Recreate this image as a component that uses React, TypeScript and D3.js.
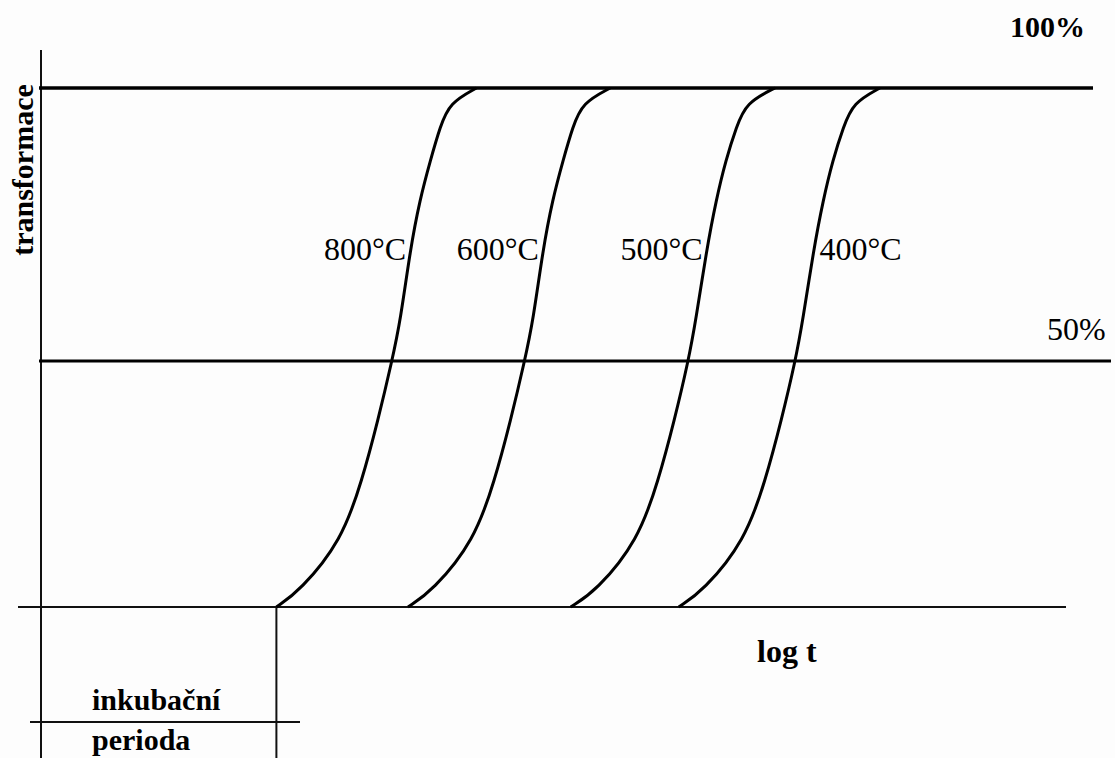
import React, { useEffect, useRef } from 'react';
import * as d3 from 'd3';

// kinetic curves of transformation (isothermal)
const curveLabels = ['800°C', '600°C', '500°C', '400°C'];
const percentLevels = [0, 3.3, 13.5, 25.7, 38, 50, 57.5, 70.3, 79.5, 86.8, 92.9, 97.3, 100];
const logT800 = [2.2, 2.42, 2.81, 3.0, 3.15, 3.28, 3.36, 3.45, 3.54, 3.64, 3.73, 3.82, 4.07];
const logT600 = [3.43, 3.66, 4.05, 4.24, 4.39, 4.52, 4.6, 4.69, 4.78, 4.88, 4.97, 5.06, 5.32];
const logT500 = [4.95, 5.19, 5.58, 5.77, 5.92, 6.05, 6.12, 6.22, 6.31, 6.4, 6.5, 6.59, 6.86];
const logT400 = [5.96, 6.19, 6.58, 6.77, 6.92, 7.05, 7.12, 7.22, 7.31, 7.4, 7.5, 7.59, 7.84];
const seriesLogT = [logT800, logT600, logT500, logT400];

const refLevels = [100, 50];
const refLabels = ['100%', '50%'];
const incubationEnd = 2.2;

const W = 1115;
const H = 758;
const FONT = '"Liberation Serif", "Times New Roman", serif';

export default function App() {
  const svgRef = useRef<SVGSVGElement>(null);

  useEffect(() => {
    if (!svgRef.current) return;
    const svg = d3.select(svgRef.current);
    svg.selectAll('*').remove();

    const x = d3.scaleLinear().domain([0, 10]).range([41, 1111]);
    // the 50% line does not sit halfway in the drawing, so piecewise
    const y = d3.scaleLinear().domain([0, 50, 100]).range([607, 361, 88]);

    svg.append('rect').attr('width', W).attr('height', H).attr('fill', '#fdfdfd');

    // vertical axis
    svg.append('line')
      .attr('x1', x(0)).attr('x2', x(0))
      .attr('y1', 50).attr('y2', H)
      .attr('stroke', '#111').attr('stroke-width', 2);

    // baseline 0%
    svg.append('line')
      .attr('x1', 18).attr('x2', 1066)
      .attr('y1', y(0)).attr('y2', y(0))
      .attr('stroke', '#111').attr('stroke-width', 2);

    // 100% and 50% lines
    const refEnds = [1093, 1111];
    const refWidths = [3.5, 3.2];
    refLevels.forEach((lv, i) => {
      svg.append('line')
        .attr('x1', x(0) - 2).attr('x2', refEnds[i])
        .attr('y1', y(lv)).attr('y2', y(lv))
        .attr('stroke', '#000').attr('stroke-width', refWidths[i]);
    });
    svg.append('text')
      .attr('x', 1010).attr('y', 37)
      .attr('font-family', FONT).attr('font-size', 30).attr('font-weight', 'bold')
      .attr('fill', '#000')
      .text(refLabels[0]);
    svg.append('text')
      .attr('x', 1047).attr('y', 340)
      .attr('font-family', FONT).attr('font-size', 32)
      .attr('fill', '#000')
      .text(refLabels[1]);

    // incubation period
    svg.append('line')
      .attr('x1', x(incubationEnd)).attr('x2', x(incubationEnd))
      .attr('y1', y(0)).attr('y2', H)
      .attr('stroke', '#111').attr('stroke-width', 2);
    svg.append('line')
      .attr('x1', 30).attr('x2', 300)
      .attr('y1', 722).attr('y2', 722)
      .attr('stroke', '#111').attr('stroke-width', 2);

    const line = d3.line<[number, number]>()
      .x(d => x(d[0]))
      .y(d => y(d[1]))
      .curve(d3.curveBasis);

    seriesLogT.forEach((vals, i) => {
      const pts: [number, number][] = vals.map((v, j) => [v, percentLevels[j]]);
      svg.append('path')
        .attr('d', line(pts) as string)
        .attr('fill', 'none')
        .attr('stroke', '#000')
        .attr('stroke-width', 3);

      const anchorPt = pts[7];
      const right = i === seriesLogT.length - 1;
      svg.append('text')
        .attr('x', x(anchorPt[0]) + (right ? 6 : -4))
        .attr('y', 260)
        .attr('text-anchor', right ? 'start' : 'end')
        .attr('font-family', FONT).attr('font-size', 32)
        .attr('fill', '#000')
        .text(curveLabels[i]);
    });

    // axis titles
    svg.append('text')
      .attr('x', 757).attr('y', 662)
      .attr('font-family', FONT).attr('font-size', 32).attr('font-weight', 'bold')
      .attr('fill', '#000')
      .text('log t');

    svg.append('text')
      .attr('transform', 'translate(33,170) rotate(-90)')
      .attr('text-anchor', 'middle')
      .attr('font-family', FONT).attr('font-size', 30).attr('font-weight', 'bold')
      .attr('fill', '#000')
      .text('transformace');

    svg.append('text')
      .attr('x', 92).attr('y', 710)
      .attr('font-family', FONT).attr('font-size', 30).attr('font-weight', 'bold')
      .attr('fill', '#000')
      .text('inkubační');
    svg.append('text')
      .attr('x', 92).attr('y', 750)
      .attr('font-family', FONT).attr('font-size', 30).attr('font-weight', 'bold')
      .attr('fill', '#000')
      .text('perioda');
  }, []);

  return (
    <svg
      ref={svgRef}
      width={W}
      height={H}
      style={{ position: 'absolute', left: 0, top: 0, display: 'block' }}
    />
  );
}
